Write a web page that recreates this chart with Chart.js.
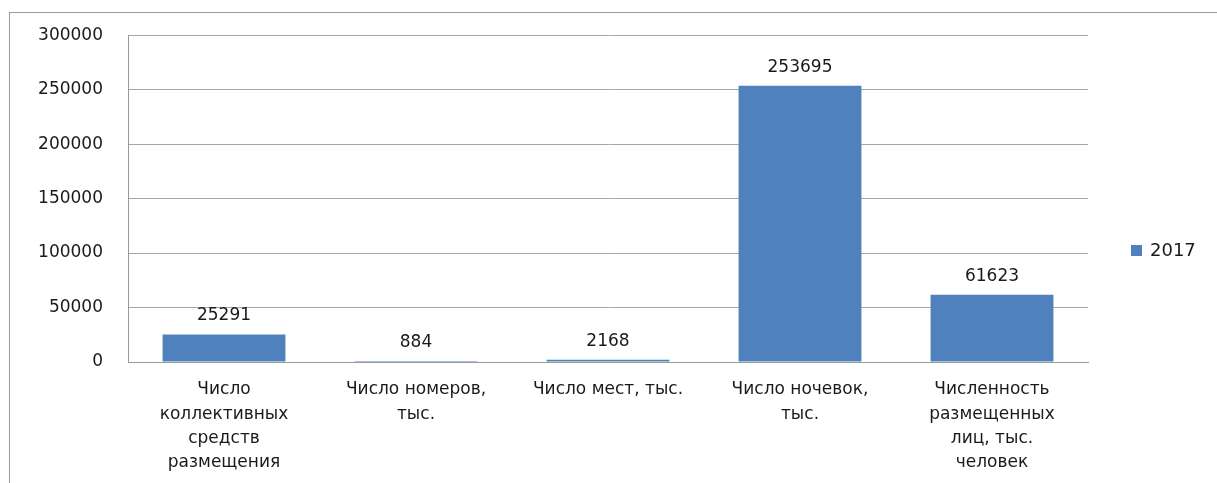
<!DOCTYPE html>
<html>
<head>
<meta charset="utf-8">
<script src="https://cdn.jsdelivr.net/npm/chart.js@4/dist/chart.umd.min.js"></script>
<style>
  html, body { margin: 0; padding: 0; background: #fff; overflow: hidden; }
  #frame { position: absolute; left: 9px; top: 12px; width: 1208px; height: 471px; border-left: 1px solid #9a9a9a; border-top: 1px solid #9a9a9a; }
  #wrap { position: absolute; left: 0; top: 0; width: 1217px; height: 483px; }
</style>
</head>
<body>
<div id="frame"></div>
<div id="wrap"><canvas id="chart" width="1217" height="483"></canvas></div>
<script>
const categories = [
  ['Число', 'коллективных', 'средств', 'размещения'],
  ['Число номеров,', 'тыс.'],
  'Число мест, тыс.',
  ['Число ночевок,', 'тыс.'],
  ['Численность', 'размещенных', 'лиц, тыс.', 'человек']
];
const seriesName = '2017';
const values2017 = [25291, 884, 2168, 253695, 61623];
const yMax = 300000;
const yStep = 50000;

const FONT = '"DejaVu Sans", Verdana, sans-serif';
const BAR_COLOR = '#4f81bd';

// подписи значений над столбцами
const valueLabels = {
  id: 'valueLabels',
  afterDatasetsDraw(chart) {
    const ctx = chart.ctx;
    ctx.save();
    ctx.font = '17px ' + FONT;
    ctx.fillStyle = '#1a1a1a';
    ctx.textAlign = 'center';
    ctx.textBaseline = 'bottom';
    chart.getDatasetMeta(0).data.forEach((bar, i) => {
      ctx.fillText(String(values2017[i]), bar.x, bar.y - 10);
    });
    ctx.restore();
  }
};

// легенда справа
const sideLegend = {
  id: 'sideLegend',
  afterDraw(chart) {
    const ctx = chart.ctx;
    const x = chart.chartArea.right + 43;
    const y = 250;
    ctx.save();
    ctx.fillStyle = BAR_COLOR;
    ctx.fillRect(x, y - 5, 11, 11);
    ctx.font = '18px ' + FONT;
    ctx.fillStyle = '#1a1a1a';
    ctx.textAlign = 'left';
    ctx.textBaseline = 'middle';
    ctx.fillText(chart.data.datasets[0].label, x + 19, y + 1);
    ctx.restore();
  }
};

new Chart(document.getElementById('chart').getContext('2d'), {
  type: 'bar',
  data: {
    labels: categories,
    datasets: [{
      label: seriesName,
      data: values2017,
      backgroundColor: BAR_COLOR,
      borderWidth: 0,
      categoryPercentage: 0.64,
      barPercentage: 1.0
    }]
  },
  options: {
    responsive: false,
    animation: false,
    layout: { padding: { left: 0, top: 29, right: 129, bottom: 0 } },
    plugins: {
      legend: { display: false },
      tooltip: { enabled: false }
    },
    scales: {
      x: {
        grid: { display: false, drawTicks: false },
        border: { color: '#9a9a9a', width: 1 },
        ticks: {
          color: '#1a1a1a',
          font: { family: FONT, size: 17, lineHeight: 1.42 },
          padding: 16,
          maxRotation: 0,
          autoSkip: false
        },
        afterFit(scale) { scale.height = 121; }
      },
      y: {
        min: 0,
        max: yMax,
        grid: { color: '#a6a6a6', drawTicks: false },
        border: { color: '#9a9a9a', width: 1 },
        ticks: {
          stepSize: yStep,
          color: '#1a1a1a',
          font: { family: FONT, size: 17 },
          padding: 25,
          callback: (v) => String(v)
        },
        afterFit(scale) { scale.width = 128; }
      }
    }
  },
  plugins: [valueLabels, sideLegend]
});
</script>
</body>
</html>
